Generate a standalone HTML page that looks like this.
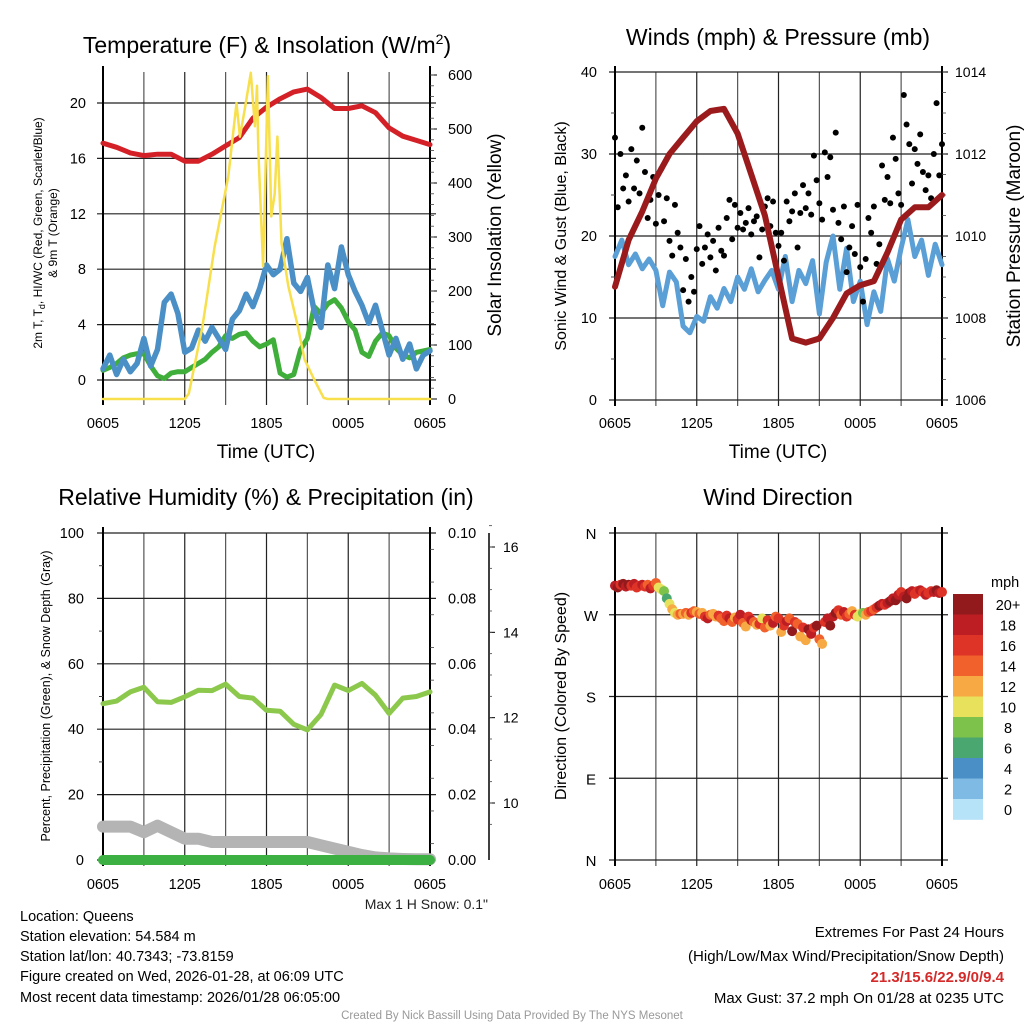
<!DOCTYPE html>
<html><head><meta charset="utf-8">
<style>
html,body{margin:0;padding:0;background:#fff;}
svg{display:block;font-family:"Liberation Sans",Arial,sans-serif;}
</style></head>
<body>
<svg id="fig" width="1024" height="1024" viewBox="0 0 1024 1024" xmlns="http://www.w3.org/2000/svg">
<rect width="1024" height="1024" fill="#fff"/>
<!-- Titles -->
<text x="267" y="53" font-size="23" text-anchor="middle">Temperature (F) &amp; Insolation (W/m<tspan dy="-9" font-size="14">2</tspan><tspan dy="9">)</tspan></text>
<text x="778" y="45" font-size="23" text-anchor="middle">Winds (mph) &amp; Pressure (mb)</text>
<text x="266" y="505" font-size="23" text-anchor="middle">Relative Humidity (%) &amp; Precipitation (in)</text>
<text x="778" y="505" font-size="23" text-anchor="middle">Wind Direction</text>
<!-- axis titles -->
<text x="266" y="458" font-size="19" text-anchor="middle">Time (UTC)</text>
<text x="778" y="458" font-size="19" text-anchor="middle">Time (UTC)</text>
<text transform="translate(42,233) rotate(-90)" font-size="12" text-anchor="middle">2m T, T<tspan dy="3" font-size="9">d</tspan><tspan dy="-3">, HI/WC (Red, Green, Scarlet/Blue)</tspan></text>
<text transform="translate(57,233) rotate(-90)" font-size="12" text-anchor="middle">&amp; 9m T (Orange)</text>
<text transform="translate(501,235) rotate(-90)" font-size="19" text-anchor="middle">Solar Insolation (Yellow)</text>
<text transform="translate(566,236) rotate(-90)" font-size="16" text-anchor="middle">Sonic Wind &amp; Gust (Blue, Black)</text>
<text transform="translate(1020,236) rotate(-90)" font-size="19" text-anchor="middle">Station Pressure (Maroon)</text>
<text transform="translate(50,696) rotate(-90)" font-size="12.5" text-anchor="middle">Percent, Precipitation (Green), &amp; Snow Depth (Gray)</text>
<text transform="translate(566,696) rotate(-90)" font-size="16" text-anchor="middle">Direction (Colored By Speed)</text>
<text x="488" y="909" font-size="14" text-anchor="end" fill="#222">Max 1 H Snow: 0.1"</text>
<!-- info -->
<g font-size="14.5" fill="#000">
<text x="20" y="921">Location: Queens</text>
<text x="20" y="941">Station elevation: 54.584 m</text>
<text x="20" y="961">Station lat/lon: 40.7343; -73.8159</text>
<text x="20" y="981">Figure created on Wed, 2026-01-28, at 06:09 UTC</text>
<text x="20" y="1002">Most recent data timestamp: 2026/01/28 06:05:00</text>
</g>
<g font-size="15" text-anchor="end">
<text x="1004" y="937">Extremes For Past 24 Hours</text>
<text x="1004" y="961">(High/Low/Max Wind/Precipitation/Snow Depth)</text>
<text x="1004" y="982" font-weight="bold" fill="#d42a2a">21.3/15.6/22.9/0/9.4</text>
<text x="1004" y="1003">Max Gust: 37.2 mph On 01/28 at 0235 UTC</text>
</g>
<text x="512" y="1019" font-size="11.5" fill="#999" text-anchor="middle">Created By Nick Bassill Using Data Provided By The NYS Mesonet</text>
<g id="layer"></g>
</svg>
<script>
// ---- data (hours since 0605 UTC) ----
const xTickLabels = ["0605","1205","1805","0005","0605"];
const tempHours = [0,1,2,3,4,5,6,7,8,9,10,11,12,13,14,15,16,17,18,19,20,21,22,23,24];
const tempRed = [17.1,16.8,16.4,16.2,16.3,16.3,15.8,15.8,16.3,16.9,17.5,18.9,19.7,20.3,20.8,21.0,20.4,19.6,19.6,19.8,19.3,18.2,17.6,17.3,17.0];
const halfHours = [0,0.5,1,1.5,2,2.5,3,3.5,4,4.5,5,5.5,6,6.5,7,7.5,8,8.5,9,9.5,10,10.5,11,11.5,12,12.5,13,13.5,14,14.5,15,15.5,16,16.5,17,17.5,18,18.5,19,19.5,20,20.5,21,21.5,22,22.5,23,23.5,24];
const tempGreen = [0.7,0.9,1.2,1.6,1.8,1.9,1.9,1.0,0.3,0.1,0.5,0.6,0.6,0.9,1.2,1.5,2.0,2.4,3.2,3.0,3.3,3.4,2.8,2.4,2.6,2.9,0.5,0.2,0.4,2.2,3.0,5.3,4.8,5.5,5.8,5.2,4.2,3.6,2.0,1.7,2.8,3.4,3.2,2.3,1.8,1.6,2.0,2.1,2.2];
const tempBlue = [0.8,1.8,0.4,1.5,0.6,1.2,3.0,1.0,2.2,5.6,6.2,4.8,2.0,2.3,3.6,2.8,3.8,3.0,2.2,4.4,5.0,6.2,5.3,6.6,8.3,7.6,8.0,10.2,7.0,6.4,7.4,5.0,3.8,8.3,6.6,9.6,7.6,6.4,5.4,4.1,5.4,3.6,1.8,3.0,1.5,2.6,0.8,1.8,2.1];
const solarHours = [0,6.0,6.3,7.3,8.2,9.2,9.8,10.05,10.4,10.85,11.15,11.3,11.4,11.75,12.1,12.35,12.6,12.8,13.1,13.6,14.3,14.8,15.5,16.2,16.5,24];
const solarVals = [0,0,10,135,283,412,548,486,536,604,505,580,462,246,598,338,380,486,289,209,135,73,36,2,0,0];
const presHours = tempHours;
const pressure = [1008.76,1009.9,1010.6,1011.4,1012.0,1012.4,1012.8,1013.05,1013.1,1012.5,1011.5,1010.5,1009.0,1007.5,1007.4,1007.5,1008.0,1008.6,1008.8,1008.9,1009.6,1010.4,1010.7,1010.7,1011.0];
const windSpeed = [17.5,19.5,16.5,17.8,16.0,17.2,15.8,11.5,15.6,14.4,9.0,8.2,10.2,9.6,12.6,11.2,13.6,12.0,15.0,13.5,16.0,13.2,14.6,15.8,13.5,17.5,12.0,15.8,14.2,17.0,10.5,16.8,20.0,13.5,18.5,12.0,14.5,9.2,13.2,10.8,17.2,14.5,18.5,22.0,17.5,19.5,15.2,19.0,16.5];
const gusts = [32,23.5,30,25.8,27.4,24.2,30.6,25.8,29.2,25.2,33.2,
27.8,22.2,24.4,27.2,21.5,25.0,28.2,21.8,24.6,19.4,
17.6,23.8,20.4,18.6,13.4,17.2,12.0,15.0,13.2,18.4,
21.2,16.6,18.6,20.2,17.4,19.4,15.8,21.0,18.2,17.6,
22.2,24.4,19.6,23.8,21.0,22.8,20.8,21.6,23.4,20.2,
21.8,22.4,17.4,20.8,23.6,24.6,21.2,24.2,20.4,18.8,
20.4,17.0,24.2,21.8,23.0,25.2,18.6,22.8,26.2,23.4,
25.2,22.6,29.8,26.8,24.0,22.0,30.2,27.2,29.6,23.2,
32.6,21.6,19.6,23.6,15.6,18.6,21.2,17.8,23.8,16.2,
12.0,17.2,22.2,20.4,23.6,16.6,19.0,28.6,24.4,27.2,
24.0,32.0,29.4,25.2,23.8,37.2,33.6,31.2,26.4,30.6,
28.8,32.4,27.8,25.6,27.4,24.6,30.0,36.2,27.4,31.2];
const rhVals = [47.8,48.6,51.4,52.8,48.4,48.2,49.9,51.9,51.8,53.8,50.0,49.5,45.8,45.5,41.5,39.8,44.5,53.5,51.8,54.0,50.4,44.8,49.5,50.0,51.4];
const snowDepth = [10.2,10.2,10.2,8.5,10.5,8.5,6.5,6.5,5.5,5.5,5.5,5.5,5.5,5.5,5.5,5.5,4.5,3.5,2.5,1.5,0.8,0.5,0.3,0.2,0.2];
const precip = [0,0,0,0,0,0,0,0,0,0,0,0,0,0,0,0,0,0,0,0,0,0,0,0,0];
const windDir = [302,300,303,304,301,303,302,304,300,302,303,
301,303,299,302,305,300,298,296,288,282,
276,272,270,271,271,272,270,272,274,273,
271,272,268,266,270,271,268,269,266,263,
269,266,262,267,265,270,261,257,268,264,
262,259,260,266,256,264,258,261,268,266,
251,258,263,266,252,262,260,246,256,242,
254,249,256,258,243,238,262,266,258,268,
272,275,270,273,268,271,274,270,268,271,
272,270,273,274,276,278,280,282,281,283,
285,288,286,292,295,290,288,294,296,293,
296,297,295,292,294,296,295,297,294,295];
const dirSpeed = [18,20,16,20,18,20,16,18,16,17,18,
16,14,18,16,14,11,10,8,7,10,
12,10,12,14,12,14,13,16,14,12,
14,12,16,18,14,13,12,16,14,14,
16,18,14,12,16,18,14,13,16,18,
14,12,16,10,14,16,12,18,14,16,
13,16,18,14,20,16,14,12,16,12,
20,18,16,20,14,12,16,18,20,18,
20,16,14,18,16,14,12,16,10,10,
8,12,14,16,14,16,20,18,16,18,
20,18,20,18,16,18,20,20,18,16,
16,18,16,18,16,16,18,20,18,16];
const speedLabels = ["20+","18","16","14","12","10","8","6","4","2","0"];
const speedColors = ["#931a1c","#bd1e24","#de3327","#f1612b","#f7a944","#e7e15b","#7cc24b","#4aa76f","#4a8fc6","#7fbae4","#b6e3f8"];

const NS="http://www.w3.org/2000/svg";
const layer=document.getElementById('layer');
function el(tag,attrs,parent){const e=document.createElementNS(NS,tag);for(const k in attrs)e.setAttribute(k,attrs[k]);(parent||layer).appendChild(e);return e;}
function lin(d0,d1,r0,r1){return v=>r0+(v-d0)*(r1-r0)/(d1-d0);}
function txt(x,y,s,size,anchor,parent){const t=el('text',{x:x,y:y,'font-size':size,'text-anchor':anchor},parent);t.textContent=s;return t;}

const X0=103,X1=430,X2=615,X3=942;
function frame(x0,x1,y0,y1,name,hLines){
  const g=el('g',{});
  
  
  for(let i=1;i<8;i++){const x=x0+(x1-x0)*i/8;el('line',{x1:x,x2:x,y1:y0,y2:y1+6,stroke:(i%2?'#555':'#222'),'stroke-width':1.2},g);}
  hLines.forEach(y=>el('line',{x1:x0-6,x2:x1+6,y1:y,y2:y,stroke:'#222','stroke-width':1.2},g));
  el('line',{x1:x0,x2:x0,y1:y0-6,y2:y1+6,stroke:'#000','stroke-width':2},g);
  el('line',{x1:x1,x2:x1,y1:y0-6,y2:y1+6,stroke:'#000','stroke-width':2},g);
  return g;
}
function xLabels(x0,x1,y,name){
  const g=el('g',{});
  
  
  xTickLabels.forEach((s,i)=>{txt(x0+(x1-x0)*i/4,y,s,14.5,'middle',g);});
}
function path(xs,ys,sx,sy,attrs,name){
  const d=xs.map((h,i)=>(i?'L':'M')+sx(h).toFixed(1)+','+sy(ys[i]).toFixed(1)).join('');
  const p=el('path',Object.assign({d:d,fill:'none','stroke-linejoin':'round','stroke-linecap':'round'},attrs));
  
  
  return p;
}
// ---- Panel 1 ----
{
  const Y0=72,Y1=399;
  const sx=lin(0,24,X0,X1), sy=lin(0,20,380,103), sy2=lin(0,600,399,75);
  const hl=[];for(let v=0;v<=20;v+=4)hl.push(sy(v));
  frame(X0,X1,Y0,Y1,'temp',hl);
  const gl=el('g',{});
  
  
  for(let v=0;v<=20;v+=4)txt(86,sy(v)+5,String(v),14.5,'end',gl);
  const gr=el('g',{});
  
  
  for(let v=0;v<=600;v+=100){txt(448,sy2(v)+5,String(v),14.5,'start',gr);el('line',{x1:X1,x2:X1+7,y1:sy2(v),y2:sy2(v),stroke:'#000'},gr);}
  for(let v=20;v<=600;v+=20)el('line',{x1:X1,x2:X1+4,y1:sy2(v),y2:sy2(v),stroke:'#444','stroke-width':0.8},gr);
  xLabels(X0,X1,428,'temp');
  path(tempHours,tempRed,sx,sy,{stroke:'#d42027','stroke-width':5},'temperature-line');
  path(halfHours,tempGreen,sx,sy,{stroke:'#3fae3a','stroke-width':5},'dewpoint-line');
  path(halfHours,tempBlue,sx,sy,{stroke:'#4a8fc6','stroke-width':5.5},'windchill-line');
  path(solarHours,solarVals,sx,sy2,{stroke:'#f8df4c','stroke-width':2.5},'solar-line');
}
// ---- Panel 2 ----
{
  const Y0=72,Y1=400;
  const sx=lin(0,24,X2,X3), sy=lin(0,40,400,72), sp=lin(1006,1014,400,72);
  const hl=[];for(let v=0;v<=40;v+=10)hl.push(sy(v));
  frame(X2,X3,Y0,Y1,'wind',hl);
  const gl=el('g',{});
  
  
  for(let v=0;v<=40;v+=10)txt(597,sy(v)+5,String(v),14.5,'end',gl);
  for(let v=5;v<40;v+=10)el('line',{x1:X2-4,x2:X2,y1:sy(v),y2:sy(v),stroke:'#444'},gl);
  const gr=el('g',{});
  
  
  for(let v=1006;v<=1014;v+=2){txt(955,sp(v)+5,String(v),14,'start',gr);}
  for(let v=1006;v<=1014;v+=0.5)el('line',{x1:X3,x2:X3+4,y1:sp(v),y2:sp(v),stroke:'#444','stroke-width':0.8},gr);
  xLabels(X2,X3,428,'wind');
  path(halfHours,windSpeed,sx,sy,{stroke:'#5a9fd6','stroke-width':5},'wind-speed-line');
  const gd=el('g',{});
  
  
  gusts.forEach((v,i)=>{const c=el('circle',{cx:sx(i*0.2),cy:sy(v),r:3,fill:'#000'},gd);
    
    });
  path(presHours,pressure,sx,sp,{stroke:'#9b1b1d','stroke-width':6},'pressure-line');
}
// ---- Panel 3 ----
{
  const Y0=533,Y1=860;
  const sx=lin(0,24,X0,X1), sy=lin(0,100,860,533), sr=lin(0,0.1,860,533), ss=lin(10,16,803,547);
  const hl=[];for(let v=0;v<=100;v+=20)hl.push(sy(v));
  frame(X0,X1,Y0,Y1,'rh',hl);
  const gl=el('g',{});
  
  
  for(let v=0;v<=100;v+=20)txt(84,sy(v)+5,String(v),14.5,'end',gl);
  for(let v=10;v<100;v+=20)el('line',{x1:X0-4,x2:X0,y1:sy(v),y2:sy(v),stroke:'#444'},gl);
  const gr=el('g',{});
  
  
  for(let k=0;k<=5;k++){const v=k*0.02;txt(448,sr(v)+5,v.toFixed(2),14.5,'start',gr);}
  for(let k=1;k<20;k+=2)el('line',{x1:X1,x2:X1+4,y1:sr(k*0.005),y2:sr(k*0.005),stroke:'#444','stroke-width':0.8},gr);
  const gs=el('g',{});
  
  
  el('line',{x1:489,x2:489,y1:533,y2:860,stroke:'#000','stroke-width':1.5},gs);
  for(let v=10;v<=16;v+=2){txt(503,ss(v)+5,String(v),14,'start',gs);el('line',{x1:489,x2:495,y1:ss(v),y2:ss(v),stroke:'#000'},gs);}
  for(let v=9.5;v<=16.5;v+=0.5)el('line',{x1:489,x2:492,y1:ss(v),y2:ss(v),stroke:'#444','stroke-width':0.8},gs);
  xLabels(X0,X1,889,'rh');
  path(tempHours,snowDepth,sx,sy,{stroke:'#b4b4b4','stroke-width':12},'snow-depth-line');
  path(tempHours,precip,sx,sr,{stroke:'#3db043','stroke-width':10},'precip-line');
  path(tempHours,rhVals,sx,sy,{stroke:'#8cc84b','stroke-width':5},'rh-line');
}
// ---- Panel 4 ----
{
  const Y0=533,Y1=860;
  const sx=lin(0,24,X2,X3), sy=lin(0,360,860,533);
  const dirLabels=["N","E","S","W","N"];
  const hl=[];for(let k=0;k<=4;k++)hl.push(sy(k*90));
  frame(X2,X3,Y0,Y1,'dir',hl);
  const gl=el('g',{});
  
  
  dirLabels.forEach((s,k)=>txt(591,sy(k*90)+6,s,15,'middle',gl));
  xLabels(X2,X3,889,'dir');
  const gd=el('g',{});
  
  
  windDir.forEach((v,i)=>{
    const s=dirSpeed[i];const bin=s>=20?0:10-Math.floor(s/2);
    const c=el('circle',{cx:sx(i*0.2),cy:sy(v),r:5,fill:speedColors[bin]},gd);
    
    
  });
  const gc=el('g',{});
  
  
  const t=txt(991,587,'mph',14.5,'start',gc);
  speedLabels.forEach((s,k)=>{
    const y=594+k*20.5;
    const r=el('rect',{x:953,y:y,width:30,height:20.8,fill:speedColors[k]},gc);
    
    
    txt(1008,y+16,s,14.5,'middle',gc);
  });
}
</script>
</body></html>
